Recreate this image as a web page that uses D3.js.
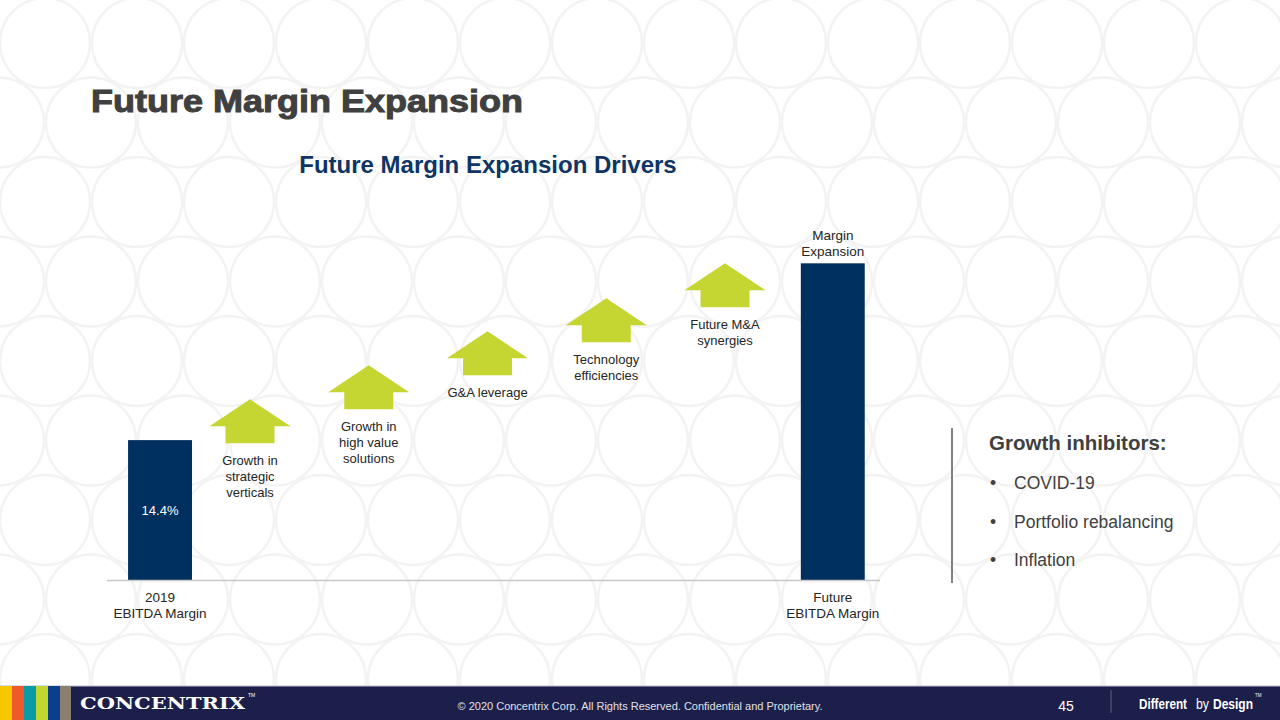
<!DOCTYPE html>
<html>
<head>
<meta charset="utf-8">
<script src="https://cdn.jsdelivr.net/npm/d3@7"></script>
<style>
  html, body { margin: 0; padding: 0; background: #fff; }
  svg { display: block; font-family: "Liberation Sans", Arial, sans-serif; }
</style>
</head>
<body>
<svg id="slide" width="1280" height="720"></svg>
<script>
// Bars: start and end of the margin bridge
const barLabels = [["2019", "EBITDA Margin"], ["Future", "EBITDA Margin"]];
const startMargin = 14.4;
const startLabel = "14.4%";

// Drivers (arrows) and the step each one adds
const drivers = [
  ["Growth in", "strategic", "verticals"],
  ["Growth in", "high value", "solutions"],
  ["G&A leverage"],
  ["Technology", "efficiencies"],
  ["Future M&A", "synergies"]
];
const driverSteps = [4.2, 3.5, 3.5, 3.4, 3.6];

const inhibitors = ["COVID-19", "Portfolio rebalancing", "Inflation"];
const stripeColors = ["#f9c700", "#ef5a2a", "#0b9ba7", "#c3d62f", "#0b3e8c", "#8b7f6e"];

const svg = d3.select("#slide");
const W = 1280, H = 720;

// Background circle pattern
const bg = svg.append("g");
for (let r = 0; r < 9; r++) {
  const cy = 43 + r * 79.5;
  const off = r % 2 === 0 ? 45 : 91;
  for (let cx = off - 92; cx < W + 92; cx += 92) {
    bg.append("circle")
      .attr("cx", cx).attr("cy", cy).attr("r", 45)
      .attr("fill", "none")
      .attr("stroke", "#f3f3f3")
      .attr("stroke-width", 2.5);
  }
}

// Titles
svg.append("text")
  .attr("x", 91).attr("y", 112)
  .attr("font-size", 32).attr("font-weight", 900)
  .attr("fill", "#404040").attr("stroke", "#404040").attr("stroke-width", 1)
  .attr("textLength", 432).attr("lengthAdjust", "spacingAndGlyphs")
  .text("Future Margin Expansion");

svg.append("text")
  .attr("x", 488).attr("y", 173)
  .attr("text-anchor", "middle")
  .attr("font-size", 24).attr("font-weight", "bold")
  .attr("fill", "#0f3564")
  .text("Future Margin Expansion Drivers");

// Scales
const cum = [];
driverSteps.reduce((acc, s) => { cum.push(acc + s); return acc + s; }, startMargin);
const endMargin = cum[cum.length - 1];

const y = d3.scaleLinear().domain([0, 35]).range([580, 240]);
const xBar = d3.scaleBand()
  .domain([0, 1])
  .range([107, 880])
  .paddingInner(0.905)
  .paddingOuter(0.027)
  .align(0.58);
const xDrv = d3.scalePoint()
  .domain(d3.range(drivers.length))
  .range([250, 725]);

const chart = svg.append("g");
const barVals = [startMargin, endMargin];

chart.selectAll(".bar")
  .data(barVals)
  .enter()
  .append("rect")
  .attr("class", "bar")
  .attr("x", (d, i) => xBar(i))
  .attr("y", d => y(d))
  .attr("width", xBar.bandwidth())
  .attr("height", d => y(0) - y(d))
  .attr("fill", "#00305f");

// baseline
chart.append("line")
  .attr("x1", 107).attr("x2", 880)
  .attr("y1", y(0) + 0.5).attr("y2", y(0) + 0.5)
  .attr("stroke", "#c8c8c8").attr("stroke-width", 1.5);

// value label in first bar
chart.append("text")
  .attr("x", xBar(0) + xBar.bandwidth() / 2)
  .attr("y", 515)
  .attr("text-anchor", "middle")
  .attr("font-size", 13).attr("fill", "#ffffff")
  .text(startLabel);

// category labels below bars
barLabels.forEach((lines, i) => {
  const t = chart.append("text")
    .attr("text-anchor", "middle")
    .attr("font-size", 13.5).attr("fill", "#262626");
  lines.forEach((ln, j) => {
    t.append("tspan")
      .attr("x", xBar(i) + xBar.bandwidth() / 2)
      .attr("y", y(0) + 22 + j * 16)
      .text(ln);
  });
});

// label above future bar
const topLbl = chart.append("text")
  .attr("text-anchor", "middle")
  .attr("font-size", 13.5).attr("fill", "#262626");
["Margin", "Expansion"].forEach((ln, j) => {
  topLbl.append("tspan")
    .attr("x", xBar(1) + xBar.bandwidth() / 2)
    .attr("y", y(endMargin) - 23 + j * 16)
    .text(ln);
});

// Arrows
const headW = 81, shaftW = 49, headH = 27, arrowH = 44;
const arrowPath = (cx, top) => {
  const p = d3.path();
  p.moveTo(cx, top);
  p.lineTo(cx + headW / 2, top + headH);
  p.lineTo(cx + shaftW / 2, top + headH);
  p.lineTo(cx + shaftW / 2, top + arrowH);
  p.lineTo(cx - shaftW / 2, top + arrowH);
  p.lineTo(cx - shaftW / 2, top + headH);
  p.lineTo(cx - headW / 2, top + headH);
  p.closePath();
  return p.toString();
};

chart.selectAll(".arrow")
  .data(cum)
  .enter()
  .append("path")
  .attr("class", "arrow")
  .attr("d", (d, i) => arrowPath(xDrv(i), y(d)))
  .attr("fill", "#c5d632");

drivers.forEach((lines, i) => {
  const t = chart.append("text")
    .attr("text-anchor", "middle")
    .attr("font-size", 13).attr("fill", "#262626");
  lines.forEach((ln, j) => {
    t.append("tspan")
      .attr("x", xDrv(i))
      .attr("y", y(cum[i]) + arrowH + 22 + j * 16)
      .text(ln);
  });
});

// Right panel
svg.append("line")
  .attr("x1", 952).attr("x2", 952)
  .attr("y1", 428).attr("y2", 583)
  .attr("stroke", "#595959").attr("stroke-width", 1.5);

svg.append("text")
  .attr("x", 989).attr("y", 450)
  .attr("font-size", 20.5).attr("font-weight", "bold")
  .attr("fill", "#404040")
  .text("Growth inhibitors:");

inhibitors.forEach((d, i) => {
  const yy = 489 + i * 38.5;
  svg.append("text")
    .attr("x", 990).attr("y", yy)
    .attr("font-size", 17.5).attr("fill", "#404040")
    .text("\u2022");
  svg.append("text")
    .attr("x", 1014).attr("y", yy)
    .attr("font-size", 17.5).attr("fill", "#404040")
    .text(d);
});

// Footer
const foot = svg.append("g");
foot.append("rect")
  .attr("x", 0).attr("y", 686).attr("width", W).attr("height", H - 686)
  .attr("fill", "#1c1f4a");
foot.append("line")
  .attr("x1", 0).attr("x2", W).attr("y1", 686).attr("y2", 686)
  .attr("stroke", "#b7bccb").attr("stroke-width", 1);
stripeColors.forEach((c, i) => {
  foot.append("rect")
    .attr("x", i * 12).attr("y", 686)
    .attr("width", i === 5 ? 11 : 12).attr("height", H - 686)
    .attr("fill", c);
});
foot.append("text")
  .attr("x", 80).attr("y", 709)
  .attr("font-family", "'DejaVu Serif', 'Liberation Serif', serif")
  .attr("font-size", 17).attr("font-weight", "bold")
  .attr("fill", "#ffffff")
  .attr("textLength", 165).attr("lengthAdjust", "spacingAndGlyphs")
  .text("CONCENTRIX");
foot.append("text")
  .attr("x", 248).attr("y", 697)
  .attr("font-size", 5).attr("fill", "#ffffff")
  .text("TM");
foot.append("text")
  .attr("x", 640).attr("y", 710)
  .attr("text-anchor", "middle")
  .attr("font-size", 11).attr("fill", "#e0e0e8")
  .text("\u00A9 2020 Concentrix Corp. All Rights Reserved. Confidential and Proprietary.");
foot.append("text")
  .attr("x", 1066).attr("y", 711)
  .attr("text-anchor", "middle")
  .attr("font-size", 14).attr("fill", "#ffffff")
  .text("45");
foot.append("line")
  .attr("x1", 1111).attr("x2", 1111).attr("y1", 690).attr("y2", 713)
  .attr("stroke", "#5d6186").attr("stroke-width", 1);
[["Different", 1139, 48, "bold"], ["by", 1196, 13, "normal"], ["Design", 1213, 40, "bold"]]
  .forEach(([t, x, len, w]) => {
    foot.append("text")
      .attr("x", x).attr("y", 709)
      .attr("font-size", 14).attr("font-weight", w).attr("fill", "#ffffff")
      .attr("textLength", len).attr("lengthAdjust", "spacingAndGlyphs")
      .text(t);
  });
foot.append("text")
  .attr("x", 1255).attr("y", 697)
  .attr("font-size", 4.5).attr("fill", "#ffffff")
  .text("TM");
</script>
</body>
</html>
